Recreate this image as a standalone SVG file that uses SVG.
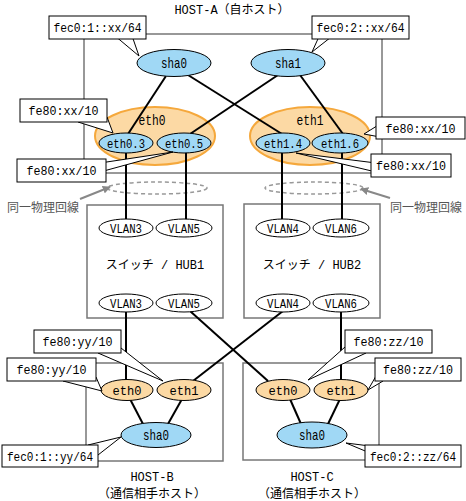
<svg xmlns="http://www.w3.org/2000/svg" width="466" height="501" viewBox="0 0 466 501">
<defs>
<marker id="ga" viewBox="0 0 10 10" refX="9" refY="5" markerWidth="4" markerHeight="4" orient="auto" markerUnits="strokeWidth">
<path d="M0,0 L10,5 L0,10 z" fill="#888"/>
</marker>
<style>
.hb{fill:none;stroke:#777;stroke-width:1.5}
.hub{fill:#fff;stroke:#777;stroke-width:1.5}
.ds{fill:none;stroke:#999;stroke-width:1.5;stroke-dasharray:4,3}
.ln{stroke:#000;stroke-width:2;fill:none}
.bl{fill:#a0d8f5;stroke:#000;stroke-width:1}
.og{fill:#fcd9a4;stroke:#000;stroke-width:1}
.big{fill:#fcd9a4;stroke:#f5a83c;stroke-width:2}
.vl{fill:#fff;stroke:#000;stroke-width:1}
.cb{fill:#fff;stroke:#000;stroke-width:1}
.t{font-family:"Liberation Mono","Noto Sans CJK JP",monospace;font-size:12px;fill:#000;text-anchor:middle}
.c{font-size:13px}
.k{font-size:12.5px}
.e{font-size:13px}
.v{font-size:12.5px}
.sh{font-size:15px}
.j{font-family:"Noto Sans CJK JP",sans-serif;font-size:12px;fill:#555;text-anchor:middle}
.ar{stroke:#888;stroke-width:2;fill:none}
</style>
</defs>
<rect width="466" height="501" fill="#fff"/>

<g id="frames">
<rect class="hb" x="84" y="34" width="298" height="139"/>
<rect class="hb" x="86" y="363" width="137" height="98"/>
<rect class="hb" x="243" y="363" width="136" height="97"/>
<text class="t" x="232" y="14">HOST-A（自ホスト）</text>
<text class="t" x="152" y="481">HOST-B</text>
<text class="t" x="152" y="498">（通信相手ホスト）</text>
<text class="t" x="312" y="481">HOST-C</text>
<text class="t" x="312" y="498">（通信相手ホスト）</text>
</g>

<g id="hub1">
<rect class="hub" x="87" y="205" width="136" height="113"/>
<text class="t" x="155" y="269">スイッチ / HUB1</text>
</g>
<g id="hub2">
<rect class="hub" x="244" y="204" width="136" height="114"/>
<text class="t" x="312" y="269">スイッチ / HUB2</text>
</g>

<g id="physical-lines">
<ellipse class="ds" cx="157" cy="188" rx="50" ry="6"/>
<ellipse class="ds" cx="314" cy="188" rx="49" ry="6"/>
<line class="ar" x1="80" y1="199" x2="110" y2="187" marker-end="url(#ga)"/>
<line class="ar" x1="390" y1="198" x2="361" y2="189" marker-end="url(#ga)"/>
<text class="j" x="43" y="212">同一物理回線</text>
<text class="j" x="426" y="212">同一物理回線</text>
</g>

<g id="eth0">
<ellipse class="big" cx="155" cy="136" rx="60" ry="29"/>
<text class="t sh" x="152" y="125" textLength="27" lengthAdjust="spacingAndGlyphs">eth0</text>
</g>
<g id="eth1">
<ellipse class="big" cx="310" cy="136" rx="60" ry="29"/>
<text class="t sh" x="310" y="125" textLength="27" lengthAdjust="spacingAndGlyphs">eth1</text>
</g>

<g id="connectors">
<line class="ln" x1="166" y1="76" x2="128" y2="134"/>
<line class="ln" x1="188" y1="75" x2="282" y2="134"/>
<line class="ln" x1="278" y1="75" x2="190" y2="134"/>
<line class="ln" x1="300" y1="75" x2="343" y2="134"/>
<line class="ln" x1="126" y1="152" x2="126" y2="220"/>
<line class="ln" x1="186" y1="152" x2="186" y2="220"/>
<line class="ln" x1="282" y1="152" x2="282" y2="220"/>
<line class="ln" x1="342" y1="152" x2="342" y2="220"/>
<line class="ln" x1="126" y1="311" x2="126" y2="381"/>
<line class="ln" x1="190" y1="311" x2="268" y2="381"/>
<line class="ln" x1="283" y1="311" x2="193" y2="381"/>
<line class="ln" x1="341" y1="311" x2="341" y2="381"/>
<line class="ln" x1="130" y1="399" x2="143" y2="424"/>
<line class="ln" x1="182" y1="399" x2="168" y2="424"/>
<line class="ln" x1="290" y1="399" x2="301" y2="424"/>
<line class="ln" x1="340" y1="399" x2="328" y2="424"/>
</g>

<g id="a-sha0"><ellipse class="bl" cx="174" cy="63" rx="37" ry="13.5"/><text class="t sh" x="174" y="68" textLength="26" lengthAdjust="spacingAndGlyphs">sha0</text></g>
<g id="a-sha1"><ellipse class="bl" cx="288" cy="63" rx="37" ry="13.5"/><text class="t sh" x="288" y="68" textLength="26" lengthAdjust="spacingAndGlyphs">sha1</text></g>
<g id="a-eth0-3"><ellipse class="bl" cx="126" cy="143" rx="27" ry="10"/><text class="t e" x="126" y="147.5" textLength="38" lengthAdjust="spacingAndGlyphs">eth0.3</text></g>
<g id="a-eth0-5"><ellipse class="bl" cx="184" cy="143" rx="27" ry="10"/><text class="t e" x="184" y="147.5" textLength="38" lengthAdjust="spacingAndGlyphs">eth0.5</text></g>
<g id="a-eth1-4"><ellipse class="bl" cx="283" cy="143" rx="27" ry="10"/><text class="t e" x="283" y="147.5" textLength="38" lengthAdjust="spacingAndGlyphs">eth1.4</text></g>
<g id="a-eth1-6"><ellipse class="bl" cx="340" cy="143" rx="28" ry="10"/><text class="t e" x="340" y="147.5" textLength="38" lengthAdjust="spacingAndGlyphs">eth1.6</text></g>

<g id="hub1-vlan3-top"><ellipse class="vl" cx="126" cy="228" rx="27" ry="9"/><text class="t v" x="126" y="232.5" textLength="32" lengthAdjust="spacingAndGlyphs">VLAN3</text></g>
<g id="hub1-vlan5-top"><ellipse class="vl" cx="184" cy="228" rx="28" ry="9"/><text class="t v" x="184" y="232.5" textLength="32" lengthAdjust="spacingAndGlyphs">VLAN5</text></g>
<g id="hub1-vlan3-bot"><ellipse class="vl" cx="126" cy="303" rx="27" ry="9"/><text class="t v" x="126" y="307.5" textLength="32" lengthAdjust="spacingAndGlyphs">VLAN3</text></g>
<g id="hub1-vlan5-bot"><ellipse class="vl" cx="184" cy="303" rx="28" ry="9"/><text class="t v" x="184" y="307.5" textLength="32" lengthAdjust="spacingAndGlyphs">VLAN5</text></g>
<g id="hub2-vlan4-top"><ellipse class="vl" cx="283" cy="228" rx="27" ry="9"/><text class="t v" x="283" y="232.5" textLength="32" lengthAdjust="spacingAndGlyphs">VLAN4</text></g>
<g id="hub2-vlan6-top"><ellipse class="vl" cx="341" cy="228" rx="28" ry="9"/><text class="t v" x="341" y="232.5" textLength="32" lengthAdjust="spacingAndGlyphs">VLAN6</text></g>
<g id="hub2-vlan4-bot"><ellipse class="vl" cx="283" cy="303" rx="27" ry="9"/><text class="t v" x="283" y="307.5" textLength="32" lengthAdjust="spacingAndGlyphs">VLAN4</text></g>
<g id="hub2-vlan6-bot"><ellipse class="vl" cx="341" cy="303" rx="28" ry="9"/><text class="t v" x="341" y="307.5" textLength="32" lengthAdjust="spacingAndGlyphs">VLAN6</text></g>

<g id="b-eth0"><ellipse class="og" cx="127" cy="390" rx="26" ry="10.5"/><text class="t c" x="127" y="394.5" textLength="29" lengthAdjust="spacingAndGlyphs">eth0</text></g>
<g id="b-eth1"><ellipse class="og" cx="184" cy="390" rx="27" ry="10.5"/><text class="t c" x="184" y="394.5" textLength="29" lengthAdjust="spacingAndGlyphs">eth1</text></g>
<g id="b-sha0"><ellipse class="bl" cx="156" cy="435" rx="35" ry="12.5"/><text class="t sh" x="156" y="440" textLength="26" lengthAdjust="spacingAndGlyphs">sha0</text></g>
<g id="c-eth0"><ellipse class="og" cx="283" cy="390" rx="27" ry="10.5"/><text class="t c" x="283" y="394.5" textLength="29" lengthAdjust="spacingAndGlyphs">eth0</text></g>
<g id="c-eth1"><ellipse class="og" cx="341" cy="390" rx="27" ry="10.5"/><text class="t c" x="341" y="394.5" textLength="29" lengthAdjust="spacingAndGlyphs">eth1</text></g>
<g id="c-sha0"><ellipse class="bl" cx="312" cy="435" rx="35" ry="13"/><text class="t sh" x="312" y="440" textLength="26" lengthAdjust="spacingAndGlyphs">sha0</text></g>

<g id="callout-a-sha0"><polygon class="cb" points="108,30 139,56 130,30"/><rect class="cb" x="49" y="16" width="97" height="23"/><text class="t k" x="97.5" y="32" textLength="88" lengthAdjust="spacingAndGlyphs">fec0:1::xx/64</text></g>
<g id="callout-a-sha1"><polygon class="cb" points="322,30 312,52 340,30"/><rect class="cb" x="312" y="16" width="97" height="23"/><text class="t k" x="360.5" y="32" textLength="88" lengthAdjust="spacingAndGlyphs">fec0:2::xx/64</text></g>
<g id="callout-a-eth03"><polygon class="cb" points="78,122 113,133 107,117 90,110"/><rect class="cb" x="20" y="99" width="87" height="23"/><text class="t c" x="63.5" y="115" textLength="70" lengthAdjust="spacingAndGlyphs">fe80:xx/10</text></g>
<g id="callout-a-eth05"><polygon class="cb" points="100,163 173,152 100,172"/><rect class="cb" x="17" y="159" width="89" height="23"/><text class="t c" x="61.5" y="175" textLength="70" lengthAdjust="spacingAndGlyphs">fe80:xx/10</text></g>
<g id="callout-a-eth16"><polygon class="cb" points="380,124 364,134 380,137"/><rect class="cb" x="376" y="117" width="89" height="22"/><text class="t c" x="420.5" y="132.5" textLength="70" lengthAdjust="spacingAndGlyphs">fe80:xx/10</text></g>
<g id="callout-a-eth14"><polygon class="cb" points="376,163 296,153 376,172"/><rect class="cb" x="371" y="154" width="80" height="23"/><text class="t c" x="411" y="170" textLength="70" lengthAdjust="spacingAndGlyphs">fe80:xx/10</text></g>
<g id="callout-b-eth1"><polygon class="cb" points="98,353 163,381 121,348 110,345"/><rect class="cb" x="34" y="330" width="87" height="23"/><text class="t c" x="77.5" y="346" textLength="70" lengthAdjust="spacingAndGlyphs">fe80:yy/10</text></g>
<g id="callout-b-eth0"><polygon class="cb" points="63,381 102,391 96,377 85,370"/><rect class="cb" x="7" y="358" width="89" height="23"/><text class="t c" x="51.5" y="374" textLength="70" lengthAdjust="spacingAndGlyphs">fe80:yy/10</text></g>
<g id="callout-b-sha0"><polygon class="cb" points="88,445 121,437 98,455 90,455"/><rect class="cb" x="2" y="445" width="96" height="22"/><text class="t" x="50" y="460.5" textLength="86" lengthAdjust="spacingAndGlyphs">fec0:1::yy/64</text></g>
<g id="callout-c-eth0"><polygon class="cb" points="345,347 308,380 366,353 355,345"/><rect class="cb" x="345" y="330" width="87" height="23"/><text class="t c" x="388.5" y="346" textLength="70" lengthAdjust="spacingAndGlyphs">fe80:zz/10</text></g>
<g id="callout-c-eth1"><polygon class="cb" points="376,376 368,390 383,381"/><rect class="cb" x="375" y="358" width="86" height="23"/><text class="t c" x="418" y="374" textLength="70" lengthAdjust="spacingAndGlyphs">fe80:zz/10</text></g>
<g id="callout-c-sha0"><polygon class="cb" points="370,446 346,443 370,453"/><rect class="cb" x="365" y="445" width="96" height="22"/><text class="t" x="413" y="460.5" textLength="86" lengthAdjust="spacingAndGlyphs">fec0:2::zz/64</text></g>
</svg>
